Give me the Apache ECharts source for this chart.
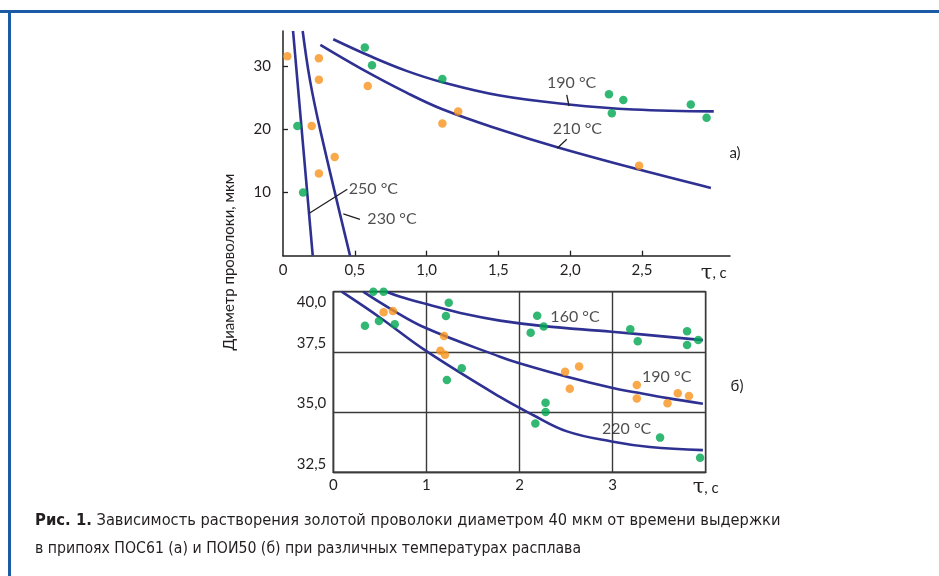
<!DOCTYPE html>
<html>
<head>
<meta charset="utf-8">
<script src="https://cdn.jsdelivr.net/npm/echarts@6/dist/echarts.min.js"></script>
<style>
html,body{margin:0;padding:0;background:#fff;}
#chart{width:939px;height:576px;}
</style>
</head>
<body>
<div id="chart"></div>
<script>
// ---------- DATA ----------
// Panel a) (ПОС61)
const topOrange = [[0.03,31.5],[0.25,31.2],[0.25,27.8],[0.59,26.8],[0.20,20.5],[0.36,15.6],[0.25,13.0],[1.11,20.9],[1.22,22.8],[2.48,14.2]];
const topGreen = [[0.57,32.9],[0.62,30.1],[1.11,27.9],[0.10,20.5],[0.14,10.0],[2.27,25.5],[2.37,24.6],[2.29,22.5],[2.84,23.9],[2.95,21.8]];
const top190 = [[0.35,34.2],[0.61,31.5],[0.86,29.2],[1.11,27.4],[1.51,25.3],[1.99,23.9],[2.44,23.1],[3.0,22.8]];
const top210 = [[0.26,33.3],[0.54,29.6],[0.86,25.76],[1.11,23.14],[1.51,19.94],[1.91,17.14],[2.48,13.6],[2.98,10.7]];
const top250 = [[0.07,35.5],[0.207,0]];
const top230 = [[0.137,35.5],[0.188,27.7],[0.26,19.8],[0.467,0]];
const topLabels = [[2.01,27.33,'190 °C'],[2.05,20.02,'210 °C'],[0.629,10.49,'250 °C'],[0.759,5.75,'230 °C']];
const topLeaders = [[[1.976,25.39],[1.992,23.65]],[[1.976,18.39],[1.910,16.97]],[[0.448,10.49],[0.183,6.70]],[[0.536,5.75],[0.420,6.59]]];
const topXTickLabels = [0,0.5,1,1.5,2,2.5,3];
const topYTickLabels = [10,20,30];

// Panel б) (ПОИ50)
const botOrange = [[0.25,40.03],[0.33,40.03],[0.54,39.15],[0.64,39.2],[1.19,38.16],[1.15,37.55],[1.20,37.38],[2.49,36.68],[2.64,36.89],[2.54,35.97],[3.26,36.13],[3.26,35.56],[3.59,35.37],[3.70,35.78],[3.82,35.67]];
const botGreen = [[0.43,40.0],[0.54,40.0],[0.34,38.59],[0.49,38.78],[0.66,38.65],[1.24,39.54],[1.21,38.99],[1.38,36.82],[1.22,36.33],[2.19,39.0],[2.12,38.3],[2.26,38.55],[3.19,38.44],[3.27,37.94],[3.80,38.36],[3.80,37.79],[3.92,37.99],[2.28,35.39],[2.28,35.0],[2.17,34.53],[3.51,33.94],[3.94,33.1]];
const bot160 = [[0.57,40.0],[0.72,39.79],[1.0,39.49],[1.43,39.06],[1.79,38.8],[2.26,38.57],[2.99,38.34],[3.97,37.99]];
const bot190 = [[0.32,40.0],[0.61,39.3],[1.0,38.48],[1.79,37.3],[1.99,37.04],[2.51,36.47],[2.99,36.01],[3.26,35.81],[3.59,35.58],[3.97,35.35]];
const bot220 = [[0.09,40.0],[0.50,38.93],[1.0,37.53],[1.79,35.63],[2.15,34.87],[2.51,34.2],[2.99,33.78],[3.40,33.55],[3.97,33.42]];
const botLabels = [[2.596,38.96,'160 °C'],[3.581,36.47,'190 °C'],[3.151,34.30,'220 °C']];
const botXTickLabels = [0,1,2,3,4];
const botYTickLabels = [32.5,35,37.5,40];

const yAxisTitle = 'Диаметр проволоки, мкм';
const captionBold = 'Рис. 1.';
const captionLine1 = ' Зависимость растворения золотой проволоки диаметром 40 мкм от времени выдержки';
const captionLine2 = 'в припоях ПОС61 (а) и ПОИ50 (б) при различных температурах расплава';

// ---------- STYLE ----------
const FONT = 'Lato, "Noto Sans", sans-serif';
const CAPFONT = '"DejaVu Sans Condensed", "Liberation Sans Narrow", "Noto Sans", sans-serif';
const TXT = '#231f20';
const NAVY = '#2e3192';
const ORANGE = '#f7941d';
const GREEN = '#00a651';

function comma(v, d){ return v.toFixed(d).replace('.', ','); }

const tauRich = { t:{fontSize:21, fontFamily:'"DejaVu Serif", serif', color:TXT}, c:{fontSize:15, fontFamily:FONT, color:TXT} };

function curve(data, gi){
  return {type:'line', xAxisIndex:gi, yAxisIndex:gi, data:data, smooth:0.4,
    showSymbol:false, symbol:'none', silent:true, z:3, clip:true,
    lineStyle:{color:NAVY, width:2.6}};
}
function pts(data, gi, color){
  return {type:'scatter', xAxisIndex:gi, yAxisIndex:gi, data:data, symbolSize:8.5, silent:true, z:5,
    itemStyle:{color:color}};
}
function labels(data, gi){
  return {type:'scatter', xAxisIndex:gi, yAxisIndex:gi, data:data, symbolSize:0, silent:true, z:6,
    label:{show:true, position:'inside', formatter:p=>p.data[2], fontSize:16, fontFamily:FONT, color:TXT}};
}
function leaders(segs, gi){
  return {type:'lines', coordinateSystem:'cartesian2d', xAxisIndex:gi, yAxisIndex:gi, silent:true, z:4,
    data:segs.map(s=>({coords:s})), lineStyle:{color:TXT, width:1.3, opacity:1}};
}

const chart = echarts.init(document.getElementById('chart'), null, {renderer:'canvas'});
chart.setOption({
  animation:false,
  backgroundColor:'#ffffff',
  textStyle:{fontFamily:FONT},
  grid:[
    {left:283, top:31, width:447, height:224.7, show:false},
    {left:333.3, top:291.7, width:372.4, height:180.6, show:true, borderColor:'#3a3a3a', borderWidth:1.4, backgroundColor:'transparent'}
  ],
  xAxis:[
    {gridIndex:0, type:'value', min:0, max:3.113,
      axisLine:{show:true, onZero:false, lineStyle:{color:TXT, width:1.5}},
      axisTick:{show:true, inside:true, length:5, customValues:[0.5,1,1.5,2,2.5], lineStyle:{color:TXT, width:1.3}},
      axisLabel:{show:true, customValues:topXTickLabels, margin:7, fontSize:15, color:TXT, fontFamily:FONT, rich:tauRich,
        formatter:v=> v>=2.9 ? '{t|τ}{c|, с}' : (v===0 ? '0' : comma(v,1))},
      splitLine:{show:false}},
    {gridIndex:1, type:'value', min:0, max:4, interval:1,
      axisLine:{show:true, onZero:false, lineStyle:{color:'#3a3a3a', width:1.4}},
      axisTick:{show:false},
      axisLabel:{show:true, customValues:botXTickLabels, margin:5, fontSize:15, color:TXT, fontFamily:FONT, rich:tauRich,
        formatter:v=> v===4 ? '{t|τ}{c|, с}' : String(v)},
      splitLine:{show:true, lineStyle:{color:'#3a3a3a', width:1.4}}}
  ],
  yAxis:[
    {gridIndex:0, type:'value', min:0, max:35.5,
      axisLine:{show:true, onZero:false, lineStyle:{color:TXT, width:1.5}},
      axisTick:{show:true, inside:true, length:5, customValues:topYTickLabels, lineStyle:{color:TXT, width:1.3}},
      axisLabel:{show:true, customValues:topYTickLabels, margin:12, fontSize:15, color:TXT, fontFamily:FONT},
      splitLine:{show:false}},
    {gridIndex:1, type:'value', min:32.5, max:40, interval:2.5,
      axisLine:{show:true, onZero:false, lineStyle:{color:'#3a3a3a', width:1.4}},
      axisTick:{show:false},
      axisLabel:{show:true, margin:7, fontSize:15, color:TXT, fontFamily:FONT,
        rich:{d:{fontSize:15, fontFamily:FONT, color:TXT, padding:[20,0,0,0]}, u:{fontSize:15, fontFamily:FONT, color:TXT, padding:[0,0,17,0]}},
        formatter:v=> v>=40 ? '{d|'+comma(v,1)+'}' : '{u|'+comma(v,1)+'}'},
      splitLine:{show:true, lineStyle:{color:'#3a3a3a', width:1.4}}}
  ],
  graphic:[
    {type:'line', shape:{x1:0, y1:11.5, x2:939, y2:11.5}, style:{stroke:'#1b5ba6', lineWidth:3}, silent:true},
    {type:'line', shape:{x1:9.5, y1:10, x2:9.5, y2:576}, style:{stroke:'#1b5ba6', lineWidth:3}, silent:true},
    {type:'text', x:229, y:262, rotation:Math.PI/2, silent:true,
      style:{text:yAxisTitle, fontSize:15, fontFamily:FONT, fill:TXT, align:'center', verticalAlign:'middle'}},
    {type:'text', x:735, y:153, silent:true, style:{text:'а)', fontSize:15, fontFamily:FONT, fill:TXT, align:'center', verticalAlign:'middle'}},
    {type:'text', x:737, y:386, silent:true, style:{text:'б)', fontSize:15, fontFamily:FONT, fill:TXT, align:'center', verticalAlign:'middle'}},
    {type:'text', x:35, y:521, silent:true,
      style:{text:'{b|'+captionBold+'}{r|'+captionLine1+'}', verticalAlign:'middle',
        rich:{b:{fontSize:16.5, fontWeight:'bold', fontFamily:CAPFONT, fill:'#231f20'}, r:{fontSize:16.3, fontFamily:CAPFONT, fill:'#231f20'}}}},
    {type:'text', x:35, y:549, silent:true,
      style:{text:captionLine2, fontSize:15.7, fontFamily:CAPFONT, fill:'#231f20', verticalAlign:'middle'}}
  ],
  series:[
    curve(top190,0), curve(top210,0), curve(top250,0), curve(top230,0),
    pts(topOrange,0,ORANGE), pts(topGreen,0,GREEN),
    labels(topLabels,0), leaders(topLeaders,0),
    curve(bot160,1), curve(bot190,1), curve(bot220,1),
    pts(botOrange,1,ORANGE), pts(botGreen,1,GREEN),
    labels(botLabels,1)
  ]
});
</script>
</body>
</html>
